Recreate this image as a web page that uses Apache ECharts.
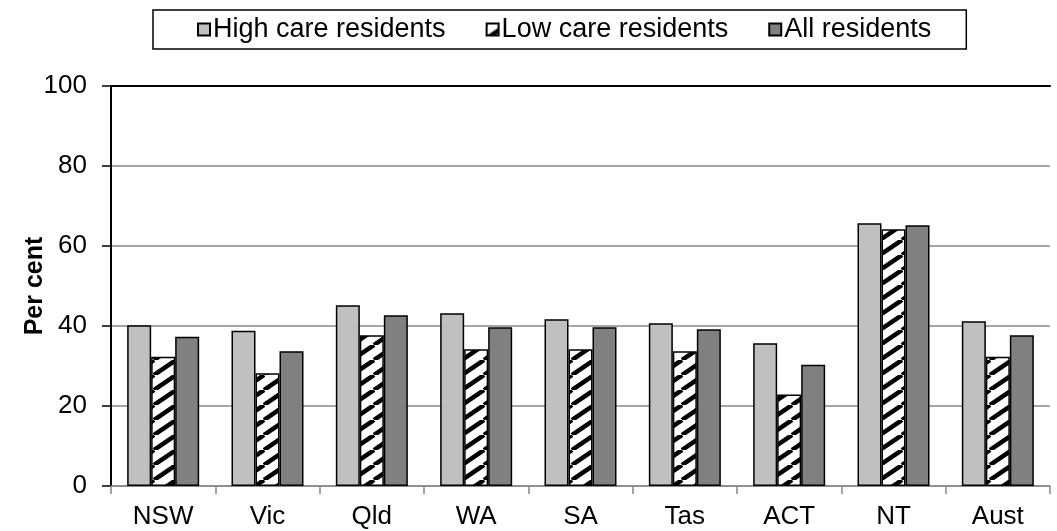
<!DOCTYPE html>
<html>
<head>
<meta charset="utf-8">
<title>Residents by care level</title>
<script src="https://cdn.jsdelivr.net/npm/echarts@6/dist/echarts.min.js"></script>
<style>
  html, body { margin: 0; padding: 0; background: #fff; }
  #chart { width: 1057px; height: 531px; }
</style>
</head>
<body>
<div id="chart"></div>
<script>
// states
var categories = ['NSW', 'Vic', 'Qld', 'WA', 'SA', 'Tas', 'ACT', 'NT', 'Aust'];
// per cent
var highCare = [40.2, 38.8, 45.2, 43.2, 41.7, 40.7, 35.7, 65.7, 41.2];
var lowCare  = [32.3, 28.2, 37.7, 34.2, 34.2, 33.7, 22.9, 64.2, 32.3];
var allRes   = [37.3, 33.7, 42.7, 39.7, 39.7, 39.2, 30.3, 65.2, 37.7];
var yTicks = [0, 20, 40, 60, 80, 100];

// diagonal hatch for low care bars
var tile = document.createElement('canvas');
tile.width = 22; tile.height = 15;
var ctx = tile.getContext('2d');
ctx.fillStyle = '#fff';
ctx.fillRect(0, 0, 22, 15);
ctx.strokeStyle = '#000';
ctx.lineWidth = 4.5;
[-22, 0, 22].forEach(function (dx) {
    ctx.beginPath();
    ctx.moveTo(dx, 15);
    ctx.lineTo(dx + 22, 0);
    ctx.stroke();
});
var hatch = { image: tile, repeat: 'repeat' };

var font = '"Liberation Sans", Arial, sans-serif';
var chart = echarts.init(document.getElementById('chart'));

chart.setOption({
    animation: false,
    textStyle: { fontFamily: font },
    grid: { left: 111, right: 7, top: 86, bottom: 45 },
    legend: {
        left: 153, top: 10,
        padding: [6, 35, 6, 44],
        borderColor: '#000', borderWidth: 1.5,
        itemWidth: 12, itemHeight: 12, itemGap: 40,
        icon: 'rect',
        textStyle: { fontSize: 27, color: '#000', fontFamily: font, padding: [0, 0, 0, -2] },
        data: ['High care residents', 'Low care residents', 'All residents']
    },
    xAxis: [{
        type: 'category',
        data: categories,
        axisLine: { lineStyle: { color: '#888', width: 1.5 } },
        axisTick: { show: true, length: 8, lineStyle: { color: '#888', width: 1.5 } },
        axisLabel: { fontSize: 26, color: '#000', margin: 18, fontFamily: font }
    }, {
        type: 'category',
        position: 'top',
        data: categories,
        axisLine: { lineStyle: { color: '#000', width: 2 } },
        axisTick: { show: false },
        axisLabel: { show: false }
    }],
    yAxis: {
        type: 'value',
        min: 0, max: 100, interval: 20,
        name: 'Per cent',
        nameLocation: 'middle',
        nameGap: 63,
        nameMoveOverlap: false,
        nameTextStyle: { fontSize: 25, fontWeight: 'bold', color: '#000', fontFamily: font },
        axisLine: { show: true, lineStyle: { color: '#000', width: 2 } },
        axisTick: { show: true, length: 9, lineStyle: { color: '#000', width: 1.5 } },
        axisLabel: {
            fontSize: 26, color: '#000', margin: 24, fontFamily: font,
            formatter: function (v) { return yTicks.indexOf(v) >= 0 ? String(v) : ''; }
        },
        splitLine: { show: true, lineStyle: { color: '#888', width: 1.5 } }
    },
    series: [{
        name: 'High care residents',
        type: 'bar',
        data: highCare,
        barWidth: 24,
        barGap: '0%',
        itemStyle: { color: '#c0c0c0', borderColor: '#000', borderWidth: 1.5 }
    }, {
        name: 'Low care residents',
        type: 'bar',
        data: lowCare,
        barWidth: 24,
        barGap: '0%',
        itemStyle: { color: hatch, borderColor: '#000', borderWidth: 1.5 }
    }, {
        name: 'All residents',
        type: 'bar',
        data: allRes,
        barWidth: 24,
        barGap: '0%',
        itemStyle: { color: '#808080', borderColor: '#000', borderWidth: 1.5 }
    }]
});
</script>
</body>
</html>
